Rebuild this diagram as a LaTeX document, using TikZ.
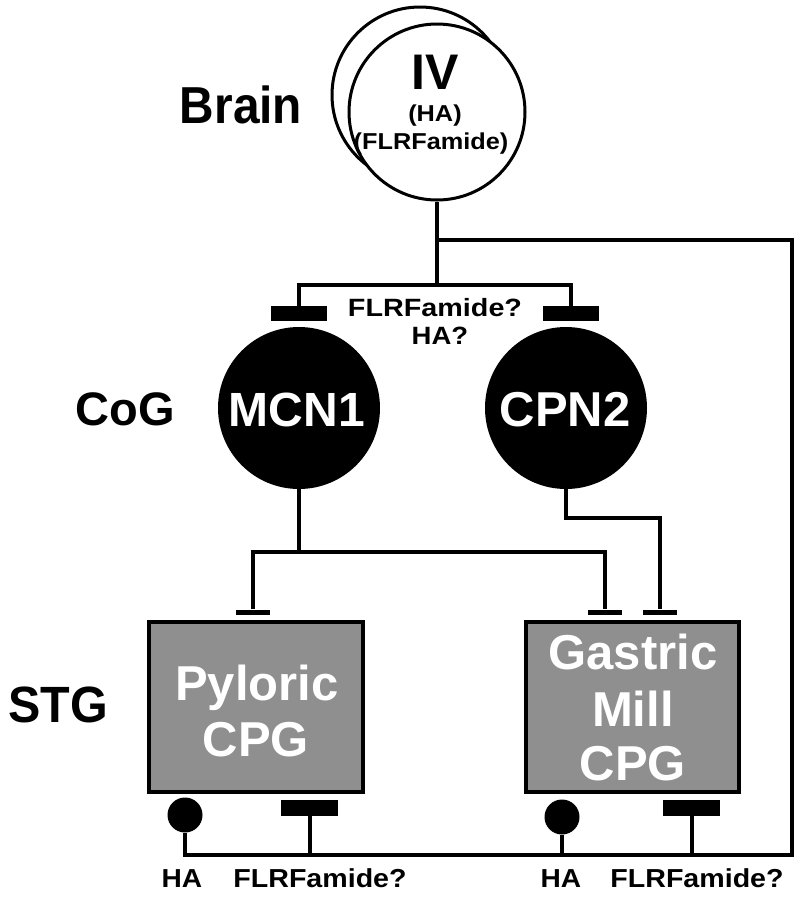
\documentclass[tikz,border=0pt]{standalone}
\usepackage{fontspec}
\setmainfont{Liberation Sans}
\begin{document}
\begin{tikzpicture}[x=1pt,y=-1pt,
  wire/.style={line width=4pt},
  cellw/.style={circle,draw,line width=3pt,fill=white,minimum size=176pt,inner sep=0pt},
  cellb/.style={circle,draw,line width=2pt,fill=black,minimum size=160pt,inner sep=0pt},
  cpgbox/.style={rectangle,draw,line width=4pt,fill=black!44,inner sep=0pt},
  thickbar/.style={rectangle,fill=black,minimum width=56pt,minimum height=15pt,inner sep=0pt},
  thinbar/.style={rectangle,fill=black,minimum width=34pt,minimum height=5pt,inner sep=0pt},
  dotsyn/.style={circle,fill=black,minimum size=35pt,inner sep=0pt},
  lbl/.style={font=\bfseries\fontsize{#1}{#1}\selectfont,inner sep=0pt,anchor=base},
  wlbl/.style={lbl=#1,text=white}
]
\useasboundingbox (0,0) rectangle (800,898);
\fill[white] (0,0) rectangle (800,898);

% Brain cell IV
\node[cellw] (ivback) at (420,95) {};
\node[cellw] (iv) at (437,112) {};
\node[lbl=50] (ivt) at (435,89) {IV};
\node[lbl=23] (ivha) at (435,121) {\scalebox{1.1}[1]{(HA)}};
\node[lbl=23] (ivflr) at (431,149) {\scalebox{1.1}[1]{(FLRFamide)}};

% region labels
\node[lbl=52] (brain) at (241,123) {\scalebox{0.92}[1]{Brain}};
\node[lbl=47] (cog) at (125,425) {CoG};
\node[lbl=51] (stg) at (58,722) {\scalebox{0.95}[1]{STG}};

% CoG cells
\node[cellb] (mcn) at (299,408) {};
\node[cellb] (cpn) at (566,408) {};
\node[wlbl=48] (mcnt) at (297,426) {MCN1};
\node[wlbl=49] (cpnt) at (565,426) {CPN2};

% inhibitory bars on CoG cells
\node[thickbar] (barM) at (299,313.5) {};
\node[thickbar] (barC) at (571,313.5) {};
\node[lbl=25] (flrq) at (435,316) {\scalebox{1.15}[1]{FLRFamide?}};
\node[lbl=25] (haq) at (440,344) {\scalebox{1.1}[1]{HA?}};

% STG boxes
\node[cpgbox,minimum width=214pt,minimum height=170pt] (pyl) at (256,707) {};
\node[cpgbox,minimum width=213pt,minimum height=170pt] (gm) at (632.5,707) {};
\node[wlbl=49] (pylt1) at (257,700) {Pyloric};
\node[wlbl=49] (pylt2) at (256,756) {CPG};
\node[wlbl=49] (gmt1) at (633,669) {Gastric};
\node[wlbl=49] (gmt2) at (633,726) {Mill};
\node[wlbl=49] (gmt3) at (633,780) {CPG};

% thin inhibitory terminals on boxes
\node[thinbar] (tP) at (253,612) {};
\node[thinbar] (tG1) at (605,612) {};
\node[thinbar] (tG2) at (660,612) {};

% modulatory terminals under boxes
\node[dotsyn] (haP) at (185,815) {};
\node[dotsyn] (haG) at (562,817) {};
\node[thickbar,minimum width=57pt,minimum height=16pt] (fP) at (309.5,808) {};
\node[thickbar,minimum width=57pt,minimum height=16pt] (fG) at (691.5,808) {};

\node[lbl=26] (haPl) at (182,887) {\scalebox{1.08}[1]{HA}};
\node[lbl=26] (fPl) at (320,887) {\scalebox{1.1}[1]{FLRFamide?}};
\node[lbl=26] (haGl) at (561,887) {\scalebox{1.08}[1]{HA}};
\node[lbl=26] (fGl) at (697,887) {\scalebox{1.1}[1]{FLRFamide?}};

% junction coordinates
\coordinate (jA) at (437,240);
\coordinate (jB) at (437,285);
\coordinate (cR) at (792,855);
\coordinate (jM) at (299,552);
\coordinate (jC) at (660,518);

% connectors
\draw[wire] (iv.south) -- (jB);
\draw[wire] (barM.north) |- (jB) -| (barC.north);
\draw[wire] (jA) -| (cR) -| (haP.south);
\draw[wire] (haG.south) -- (haG.south |- cR);
\draw[wire] (fP.south) -- (fP.south |- cR);
\draw[wire] (fG.south) -- (fG.south |- cR);
\draw[wire] (mcn.south) -- (jM);
\draw[wire] (tP.north) |- (jM) -| (tG1.north);
\draw[wire] (cpn.south) |- (jC) -- (tG2.north);
\end{tikzpicture}
\end{document}
